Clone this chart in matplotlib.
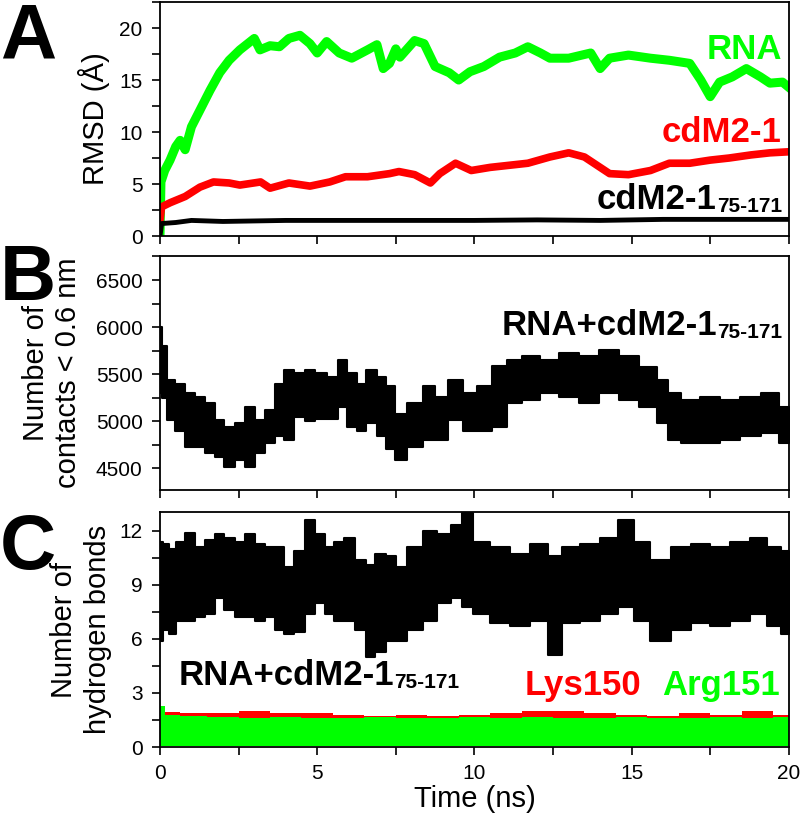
import matplotlib
matplotlib.use("Agg")
import matplotlib.pyplot as plt
from matplotlib.ticker import MultipleLocator

plt.rcParams['font.family'] = ['Liberation Sans', 'DejaVu Sans']

GREEN = '#00ff00'
RED = '#ff0000'

# panel A: RMSD (A) vs time (ns)
rna_t = [0, 0.03, 0.15, 0.32, 0.5, 0.64, 0.8, 1.0, 1.27, 1.59, 1.9, 2.2, 2.54, 3.0, 3.18, 3.5, 3.8, 4.1, 4.45, 4.77,
         5.0, 5.3, 5.7, 6.1, 6.6, 6.9, 7.1, 7.3, 7.5, 7.63, 8.1, 8.4, 8.75, 9.2, 9.5, 9.86, 10.3, 10.8, 11.3, 11.7,
         12.1, 12.4, 13.0, 13.7, 14.0, 14.3, 14.9, 15.6, 16.2, 16.85, 17.2, 17.5, 17.8, 18.2, 18.65, 19.1, 19.4, 19.8, 20]
rna = [0, 5.2, 6.3, 7.3, 8.6, 9.2, 8.3, 10.5, 12.1, 14.0, 15.7, 16.9, 17.9, 19.0, 17.9, 18.3, 18.2, 19.0, 19.3, 18.5,
       17.6, 18.7, 17.6, 17.1, 17.9, 18.4, 16.1, 16.6, 18.0, 17.2, 18.8, 18.5, 16.3, 15.7, 15.0, 15.8, 16.3, 17.2, 17.6, 18.2,
       17.6, 17.1, 17.1, 17.6, 16.1, 17.1, 17.4, 17.1, 16.9, 16.6, 15.0, 13.4, 14.8, 15.3, 16.1, 15.3, 14.7, 14.8, 14.3]

cdm_t = [0, 0.05, 0.32, 0.8, 1.27, 1.7, 2.2, 2.54, 3.2, 3.5, 4.1, 4.77, 5.4, 5.9, 6.6, 7.3, 7.6, 8.1, 8.6, 8.9,
         9.4, 9.9, 10.5, 11.1, 11.7, 12.4, 13.0, 13.5, 14.0, 14.3, 14.9, 15.6, 16.2, 16.85, 17.5, 18.1, 18.8, 19.4, 20]
cdm = [1.5, 2.8, 3.2, 3.8, 4.7, 5.2, 5.1, 4.9, 5.2, 4.6, 5.1, 4.8, 5.2, 5.7, 5.7, 6.0, 6.2, 5.9, 5.1, 6.0,
       7.0, 6.3, 6.6, 6.8, 7.0, 7.6, 8.0, 7.6, 6.6, 6.0, 5.9, 6.3, 7.0, 7.0, 7.3, 7.5, 7.8, 8.0, 8.1]

core_t = [0, 0.05, 0.5, 1.0, 2.0, 4.0, 6.0, 8.0, 10.0, 12.0, 14.0, 16.0, 18.0, 20.0]
core = [0, 1.2, 1.3, 1.5, 1.4, 1.5, 1.5, 1.5, 1.5, 1.55, 1.5, 1.6, 1.6, 1.6]

# panel B: number of contacts < 0.6 nm (band: low / high)
cont_t = [0, 0.1, 0.32, 0.64, 0.95, 1.27, 1.59, 1.9, 2.2, 2.54, 2.86, 3.18, 3.5, 3.8, 4.1, 4.45, 4.77, 5.1, 5.5, 5.8,
          6.1, 6.4, 6.7, 7.1, 7.3, 7.63, 8.1, 8.6, 8.9, 9.4, 9.86, 10.3, 10.8, 11.3, 11.75, 12.4, 13.0, 13.65, 14.3, 14.9,
          15.6, 16.0, 16.3, 16.85, 17.5, 18.1, 18.8, 19.4, 20]
cont_hi = [6000, 5800, 5440, 5400, 5300, 5260, 5190, 5010, 4940, 4980, 5150, 5010, 5120, 5400, 5540, 5510, 5540, 5510, 5470, 5650,
           5510, 5400, 5540, 5470, 5370, 5080, 5190, 5370, 5260, 5440, 5300, 5370, 5590, 5650, 5690, 5650, 5720, 5690, 5760, 5690,
           5580, 5440, 5300, 5230, 5260, 5230, 5260, 5300, 5150]
cont_lo = [5300, 5250, 5010, 4900, 4730, 4730, 4660, 4620, 4515, 4590, 4515, 4660, 4770, 4840, 4800, 5050, 5000, 5020, 5020, 5150,
           4940, 4900, 4980, 4840, 4700, 4590, 4730, 4800, 4800, 5010, 4900, 4900, 4940, 5190, 5230, 5300, 5260, 5190, 5300, 5230,
           5150, 4980, 4800, 4770, 4770, 4800, 4840, 4870, 4770]

# panel C: number of hydrogen bonds (band: low / high)
hb_t = [0, 0.2, 0.4, 0.64, 0.95, 1.27, 1.59, 1.9, 2.2, 2.54, 2.86, 3.18, 3.5, 3.8, 4.1, 4.45, 4.77, 5.1, 5.4, 5.7,
        6.0, 6.4, 6.7, 7.0, 7.4, 7.63, 8.1, 8.6, 9.0, 9.5, 9.7, 10.2, 10.8, 11.45, 12.1, 12.6, 13.0, 13.7, 14.3, 14.85,
        15.3, 15.9, 16.6, 17.2, 17.8, 18.45, 19.1, 19.5, 20]
hb_hi = [11.4, 11.3, 11.0, 11.4, 11.9, 11.1, 11.5, 11.8, 11.6, 11.4, 11.8, 11.3, 11.1, 11.1, 10.0, 10.9, 12.6, 11.8, 11.1, 11.4,
         11.6, 10.4, 10.1, 10.7, 10.6, 10.0, 11.1, 12.0, 11.8, 12.3, 13.0, 11.4, 11.1, 10.7, 11.3, 10.6, 11.1, 11.3, 11.6, 12.6,
         11.4, 10.4, 11.1, 11.3, 11.1, 11.4, 11.6, 11.1, 10.9]
hb_lo = [5.9, 6.5, 6.3, 7.0, 7.0, 7.2, 7.4, 8.3, 7.6, 7.2, 7.2, 7.0, 7.2, 6.5, 6.3, 6.4, 7.4, 8.0, 7.4, 7.0,
         7.0, 6.5, 5.0, 5.3, 5.9, 5.9, 6.5, 7.0, 8.0, 8.3, 7.8, 7.4, 6.9, 6.7, 7.0, 5.1, 6.9, 7.0, 7.4, 7.8,
         7.0, 5.9, 6.5, 6.9, 6.7, 7.0, 7.4, 6.7, 6.3]

res_t = [0, 0.3, 1, 2, 3, 4, 5, 6, 7, 8, 9, 10, 11, 12, 13, 14, 15, 16, 17, 18, 19, 20]
lys_hi = [2.0, 1.95, 1.9, 1.9, 2.0, 1.9, 1.9, 1.8, 1.7, 1.8, 1.7, 1.8, 1.9, 2.0, 2.0, 1.9, 1.8, 1.7, 1.9, 1.8, 2.0, 1.8]
lys_lo = [0.3, 0.3, 0.3, 0.3, 0.3, 0.3, 0.3, 0.3, 0.3, 0.3, 0.3,
          0.3, 0.3, 0.3, 0.3, 0.3, 0.3, 0.3, 0.3, 0.3, 0.3, 0.3]
arg_hi = [2.3, 1.8, 1.7, 1.65, 1.6, 1.65, 1.6, 1.6, 1.65, 1.6, 1.6, 1.65, 1.6, 1.65, 1.6, 1.6, 1.65, 1.6, 1.6, 1.65, 1.6, 1.65]
arg_lo = [0.08, 0.08, 0.08, 0.08, 0.08, 0.08, 0.08, 0.08, 0.08, 0.08, 0.08,
          0.08, 0.08, 0.08, 0.08, 0.08, 0.08, 0.08, 0.08, 0.08, 0.08, 0.08]

fig = plt.figure(figsize=(8, 8.15), dpi=100)
L, W = 0.2, 0.786
axA = fig.add_axes([L, 0.7104, W, 0.2871])
axB = fig.add_axes([L, 0.3988, W, 0.2871])
axC = fig.add_axes([L, 0.0834, W, 0.2884])


def style(ax, ymaj, ymin):
    ax.set_xlim(0, 20)
    ax.xaxis.set_major_locator(MultipleLocator(5))
    ax.xaxis.set_minor_locator(MultipleLocator(2.5))
    ax.yaxis.set_major_locator(MultipleLocator(ymaj))
    ax.yaxis.set_minor_locator(MultipleLocator(ymin))
    ax.tick_params(which='both', direction='out', length=5.5, width=1.2,
                   top=False, right=False, labelsize=15, pad=7)
    for s in ax.spines.values():
        s.set_linewidth(1.3)


def two_line_ylabel(ax, first, second, x1, x2):
    # two rotated lines, each placed by its right edge in axes coords
    ax.set_ylabel(second, fontsize=21)
    ax.yaxis.set_label_coords(x2, 0.5)
    ax.text(x1, 0.5, first, transform=ax.transAxes, rotation=90,
            ha='right', va='center', fontsize=21)


def sub_label(ax, x, y, main, sub, color='black', ha='right'):
    # main text with a small, baseline-level suffix (e.g. residue range)
    if ha == 'right':
        t = ax.text(x, y, sub, transform=ax.transAxes, ha='right', va='baseline',
                    fontsize=15, fontweight='bold', color=color)
        ax.annotate(main, xy=(0, 0), xycoords=t, ha='right', va='bottom',
                    fontsize=25, fontweight='bold', color=color)
    else:
        t = ax.text(x, y, main, transform=ax.transAxes, ha='left', va='baseline',
                    fontsize=25, fontweight='bold', color=color)
        ax.annotate(sub, xy=(1, 0), xycoords=t, ha='left', va='bottom',
                    fontsize=15, fontweight='bold', color=color)


# A
axA.plot(rna_t, rna, color=GREEN, lw=6.5)
axA.plot(cdm_t, cdm, color=RED, lw=5.5)
axA.plot(core_t, core, color='black', lw=3.5)
axA.set_ylim(0, 22.5)
style(axA, 5, 2.5)
axA.tick_params(axis='x', labelbottom=False)
axA.set_ylabel('RMSD (Å)', fontsize=21)
axA.yaxis.set_label_coords(-0.08, 0.5)
axA.text(0.989, 0.756, 'RNA', transform=axA.transAxes, ha='right', va='baseline',
         fontsize=25, fontweight='bold', color=GREEN)
axA.text(0.989, 0.402, 'cdM2-1', transform=axA.transAxes, ha='right', va='baseline',
         fontsize=25, fontweight='bold', color=RED)
sub_label(axA, 0.989, 0.103, 'cdM2-1', '75-171')

# B
axB.fill_between(cont_t, cont_lo, cont_hi, color='black', lw=1.5, step='mid')
axB.set_ylim(4270, 6755)
style(axB, 500, 250)
axB.tick_params(axis='x', labelbottom=False)
two_line_ylabel(axB, 'Number of', 'contacts < 0.6 nm', -0.175, -0.124)
sub_label(axB, 0.989, 0.65, 'RNA+cdM2-1', '75-171')

# C
axC.fill_between(hb_t, hb_lo, hb_hi, color='black', lw=1.5, step='mid')
axC.fill_between(res_t, lys_lo, lys_hi, color=RED, lw=0, step='mid')
axC.fill_between(res_t, arg_lo, arg_hi, color=GREEN, lw=0, step='mid')
axC.set_ylim(0, 13.05)
style(axC, 3, 1.5)
two_line_ylabel(axC, 'Number of', 'hydrogen bonds', -0.130, -0.076)
axC.set_xlabel('Time (ns)', fontsize=21, labelpad=1)
sub_label(axC, 0.029, 0.264, 'RNA+cdM2-1', '75-171', ha='left')
axC.text(0.766, 0.221, 'Lys150', transform=axC.transAxes, ha='right', va='baseline',
         fontsize=25, fontweight='bold', color=RED)
axC.text(0.986, 0.221, 'Arg151', transform=axC.transAxes, ha='right', va='baseline',
         fontsize=25, fontweight='bold', color=GREEN)

# panel letters
for lab, y in [('A', 0.928), ('B', 0.632), ('C', 0.302)]:
    fig.text(0.0, y, lab, fontsize=56, fontweight='bold', ha='left', va='baseline')

fig.savefig('out.png', dpi=100)
